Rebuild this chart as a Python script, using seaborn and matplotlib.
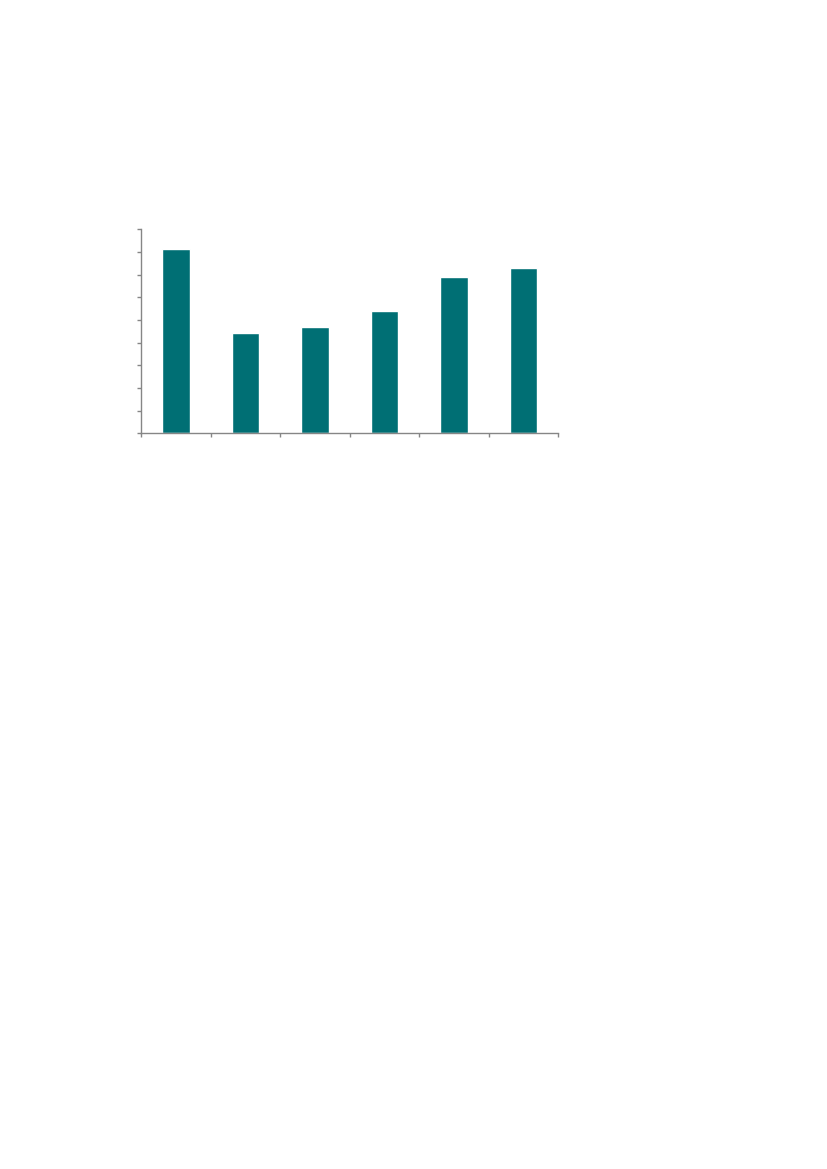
import matplotlib
matplotlib.use("Agg")
import matplotlib.pyplot as plt
import seaborn as sns
import pandas as pd

# values (no labels are shown in the reference)
categories = ["c1", "c2", "c3", "c4", "c5", "c6"]
values = [8.13, 4.43, 4.68, 5.40, 6.90, 7.28]
y_ticks = list(range(0, 10))

sns.set_style("white")

df = pd.DataFrame({"category": categories, "value": values})

fig = plt.figure(figsize=(8.27, 11.69), dpi=100)
ax = fig.add_axes([0.1709, 0.6293, 0.5042, 0.1745])

sns.barplot(data=df, x="category", y="value", color="#006F74",
            saturation=1, width=0.4, ax=ax)

ax.set_xlim(-0.5, len(categories) - 0.5)
ax.set_ylim(0, 9)
ax.set_yticks(y_ticks)
ax.set_xticks([i - 0.5 for i in range(len(categories) + 1)])
ax.set_xticklabels([])
ax.set_yticklabels([])
ax.set_xlabel("")
ax.set_ylabel("")

for side in ["top", "right"]:
    ax.spines[side].set_visible(False)
for side in ["left", "bottom"]:
    ax.spines[side].set_color("#868686")
    ax.spines[side].set_linewidth(1.0)
ax.tick_params(axis="both", direction="out", length=3, width=1.0,
               color="#868686", left=True, bottom=True)

fig.savefig("out.png", dpi=100)
